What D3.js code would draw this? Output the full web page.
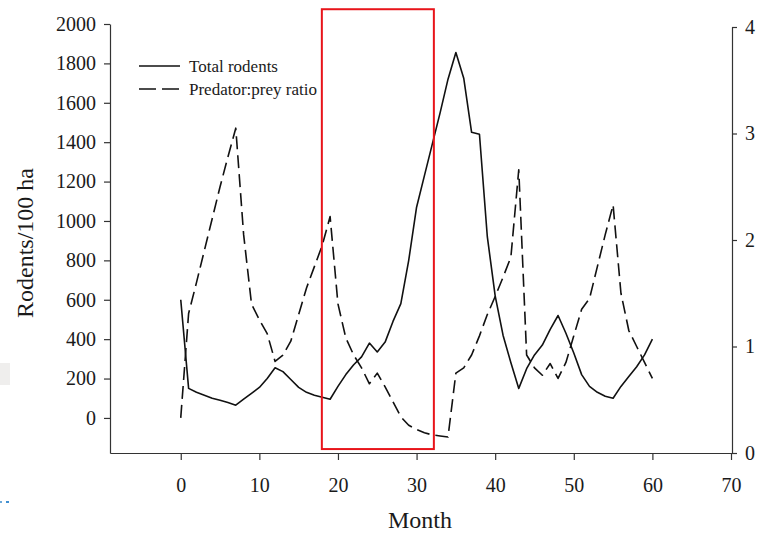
<!DOCTYPE html>
<html>
<head>
<meta charset="utf-8">
<script src="https://cdn.jsdelivr.net/npm/d3@7"></script>
<style>
  body { margin: 0; background: #fff; }
  svg text { font-family: "Liberation Serif", "Times New Roman", serif; fill: #1a1a1a; }
  .axis path, .axis line { stroke: #333; stroke-width: 1.2; }
</style>
</head>
<body>
<div id="chart"></div>
<script>
// months 0..60
const months   = d3.range(0, 61)
const rodents  = [600,150,130,115,100,90,78,65,95,125,155,200,255,235,195,155,130,115,105,95,
                  160,220,270,310,380,335,385,490,580,800,1070,1230,1390,1550,1720,1855,1725,1450,1440,920,
                  620,420,280,150,250,320,370,450,520,430,330,220,160,130,110,100,160,210,260,320,400]
const ratio    = [0.33,1.31,1.6,1.9,2.2,2.5,2.78,3.05,2.05,1.4,1.25,1.12,0.86,0.92,1.05,1.3,1.55,1.75,1.95,2.22,
                  1.4,1.08,0.92,0.8,0.65,0.75,0.62,0.48,0.34,0.26,0.22,0.19,0.17,0.16,0.15,0.75,0.8,0.92,1.1,1.3,
                  1.47,1.65,1.84,2.66,0.92,0.8,0.73,0.84,0.70,0.85,1.1,1.35,1.45,1.75,2.05,2.33,1.5,1.15,1.0,0.85,0.7]
const xTicks     = [0,10,20,30,40,50,60,70]
const leftTicks  = d3.range(0, 2001, 200)
const rightTicks = [0,1,2,3,4]
const legendLabels = ['Total rodents', 'Predator:prey ratio']
// highlighted window (months / rodents units)
const boxMonths  = [17.95, 32.2]
const boxRodents = [-158, 2075]

const W = 761, H = 534
const svg = d3.select('#chart').append('svg').attr('width', W).attr('height', H)

const x  = d3.scaleLinear().domain([-9, 70]).range([110, 731])
const yL = d3.scaleLinear().domain([-178, 2000]).range([453, 24])
const yR = d3.scaleLinear().domain([0, 4]).range([453, 27])

// faint scan artefacts at left edge
svg.append('rect').attr('x', 0).attr('y', 363).attr('width', 10).attr('height', 22).attr('fill', '#efeeed')
svg.append('rect').attr('x', 0).attr('y', 501).attr('width', 2).attr('height', 2).attr('fill', '#6aa7d8')
svg.append('rect').attr('x', 6).attr('y', 501).attr('width', 3).attr('height', 2).attr('fill', '#3f8fd1')

// axes
let gx = svg.append('g').attr('class', 'axis').attr('transform', `translate(0,${yL(-178)})`)
  .call(d3.axisBottom(x).tickValues(xTicks).tickFormat(d3.format('d'))
          .tickSize(7).tickSizeOuter(0).tickPadding(18))
gx.selectAll('text').style('font-size', '20px')

let gl = svg.append('g').attr('class', 'axis').attr('transform', `translate(${x(-9)},0)`)
  .call(d3.axisLeft(yL).tickValues(leftTicks).tickFormat(d3.format('d'))
          .tickSize(6).tickSizeOuter(0).tickPadding(8))
gl.selectAll('text').style('font-size', '20px')

let gr = svg.append('g').attr('class', 'axis').attr('transform', `translate(732,0)`)
  .call(d3.axisRight(yR).tickValues(rightTicks).tickFormat(d3.format('d'))
          .tickSize(5).tickSizeOuter(0).tickPadding(8))
gr.selectAll('text').style('font-size', '20px')
svg.selectAll('.axis .domain').attr('stroke', '#333')

// titles
svg.append('text').attr('x', 420).attr('y', 528).attr('text-anchor', 'middle')
  .style('font-size', '24px').text('Month')
svg.append('text').attr('transform', 'translate(33,243) rotate(-90)').attr('text-anchor', 'middle')
  .style('font-size', '24px').text('Rodents/100 ha')

// series
const lineL = d3.line().x((d, i) => x(months[i])).y(d => yL(d))
const lineR = d3.line().x((d, i) => x(months[i])).y(d => yR(d))

svg.append('path').datum(rodents).attr('d', lineL)
  .attr('fill', 'none').attr('stroke', '#111').attr('stroke-width', 1.6).attr('stroke-linejoin', 'round')
svg.append('path').datum(ratio).attr('d', lineR)
  .attr('fill', 'none').attr('stroke', '#111').attr('stroke-width', 1.6)
  .attr('stroke-dasharray', '13,6').attr('stroke-linejoin', 'round')

// legend
let lg = svg.append('g')
lg.selectAll('line').data(legendLabels).enter().append('line')
  .attr('x1', 139).attr('x2', 180)
  .attr('y1', (d, i) => 66 + i * 23).attr('y2', (d, i) => 66 + i * 23)
  .attr('stroke', '#111').attr('stroke-width', 1.6)
  .attr('stroke-dasharray', (d, i) => i ? '17,6' : null)
lg.selectAll('text').data(legendLabels).enter().append('text')
  .attr('x', 189).attr('y', (d, i) => 72 + i * 23)
  .style('font-size', '17px').text(d => d)

// red highlight box
svg.append('rect')
  .attr('x', x(boxMonths[0])).attr('y', yL(boxRodents[1]))
  .attr('width', x(boxMonths[1]) - x(boxMonths[0]))
  .attr('height', yL(boxRodents[0]) - yL(boxRodents[1]))
  .attr('fill', 'none').attr('stroke', '#e8141a').attr('stroke-width', 2)
</script>
</body>
</html>
